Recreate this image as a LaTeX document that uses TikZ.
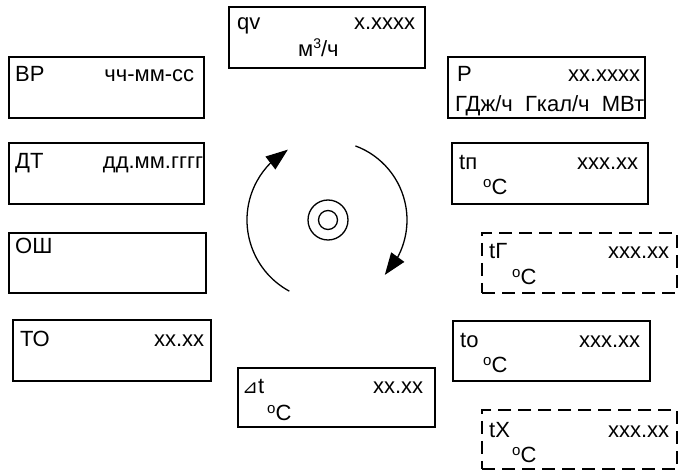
\documentclass[tikz,border=0pt]{standalone}
\usepackage{fontspec}
\setmainfont{Liberation Sans}
\newfontfamily\symfont{DejaVu Sans}
\usetikzlibrary{arrows.meta,bending}
\newcommand\degsym{\raisebox{7.5pt}{\fontsize{15}{15}\selectfont o}}
\newcommand\cubsym{\raisebox{8pt}{\fontsize{14}{14}\selectfont 3}}
\begin{document}
\begin{tikzpicture}[x=1pt,y=-1pt,
  box/.style={draw, line width=1.5pt, anchor=north west, inner sep=0pt, outer sep=0pt, minimum height=61pt},
  dbox/.style={box, line width=1.3pt, dash pattern=on 13pt off 7pt},
  lbl/.style={anchor=base west, inner sep=0pt, font=\fontsize{22}{26}\selectfont},
  ring/.style={circle, draw, line width=1.3pt, inner sep=0pt},
  rot/.style={line width=1.3pt, -{Triangle[length=22pt, width=16pt]}}
]
\fill[white] (0,0) rectangle (678,470);
\useasboundingbox (0,0) rectangle (678,470);

% left column
\node[box, minimum width=195pt] (vr) at (9,57) {};
\node[lbl] (vrA) at (15,82) {\hbox to 179pt{ВР\hfill чч-мм-сс}};
\node[box, minimum width=195pt] (dt) at (9,143) {};
\node[lbl] (dtA) at (15,169) {\hbox to 188pt{ДТ\hfill дд.мм.гггг}};
\node[box, minimum width=197pt, minimum height=60pt] (osh) at (9,233) {};
\node[lbl] (oshA) at (15,254) {ОШ};
\node[box, minimum width=198pt] (to) at (13,320) {};
\node[lbl] (toA) at (20,347) {\hbox to 184pt{ТО\hfill xx.xx}};

% top
\node[box, minimum width=196pt] (qv) at (229,7) {};
\node[lbl] (qvA) at (237,30) {\hbox to 178pt{qv\hfill x.xxxx}};
\node[lbl] (qvB) at (298,57) {м\cubsym/ч};

% bottom
\node[box, minimum width=197pt, minimum height=59pt] (dlt) at (238,368) {};
\node[lbl] (dltA) at (242,394) {\hbox to 181pt{{\symfont\fontsize{19}{22}\selectfont ⊿}t\hfill xx.xx}};
\node[lbl] (dltB) at (267,421) {\degsym C};

% right column
\node[box, minimum width=197pt] (p) at (448,57) {};
\node[lbl] (pA) at (457,82) {\hbox to 183pt{P\hfill xx.xxxx}};
\node[lbl] (pB) at (455,112) {\hbox to 189pt{ГДж/ч\hfill Гкал/ч\hfill МВт}};
\node[box, minimum width=196pt] (tp) at (452,143) {};
\node[lbl] (tpA) at (459,170) {\hbox to 179pt{tп\hfill xxx.xx}};
\node[lbl] (tpB) at (483,195) {\degsym C};
\node[dbox, minimum width=195pt, minimum height=60pt] (tg) at (482,233) {};
\node[lbl] (tgA) at (489,259) {\hbox to 180pt{tГ\hfill xxx.xx}};
\node[lbl] (tgB) at (512,285) {\degsym C};
\node[box, minimum width=197pt, minimum height=60pt] (tO) at (453,321) {};
\node[lbl] (tOA) at (460,348) {\hbox to 180pt{to\hfill xxx.xx}};
\node[lbl] (tOB) at (483,373) {\degsym C};
\node[dbox, minimum width=195pt, minimum height=59pt] (tx) at (482,410) {};
\node[lbl] (txA) at (489,438) {\hbox to 180pt{tX\hfill xxx.xx}};
\node[lbl] (txB) at (512,463) {\degsym C};

% centre
\coordinate (c) at (328,220);
\node[ring, minimum size=40pt] (co) at (c) {};
\node[ring, minimum size=19pt] (ci) at (c) {};
\coordinate (a1) at ([shift={(118.5:81)}]c);
\coordinate (b1) at ([shift={(-69.7:79)}]c);
\draw[rot] (a1) arc[start angle=118.5, end angle=240.3, radius=81];
\draw[rot] (b1) arc[start angle=-69.7, end angle=44, radius=79];
\end{tikzpicture}
\end{document}
